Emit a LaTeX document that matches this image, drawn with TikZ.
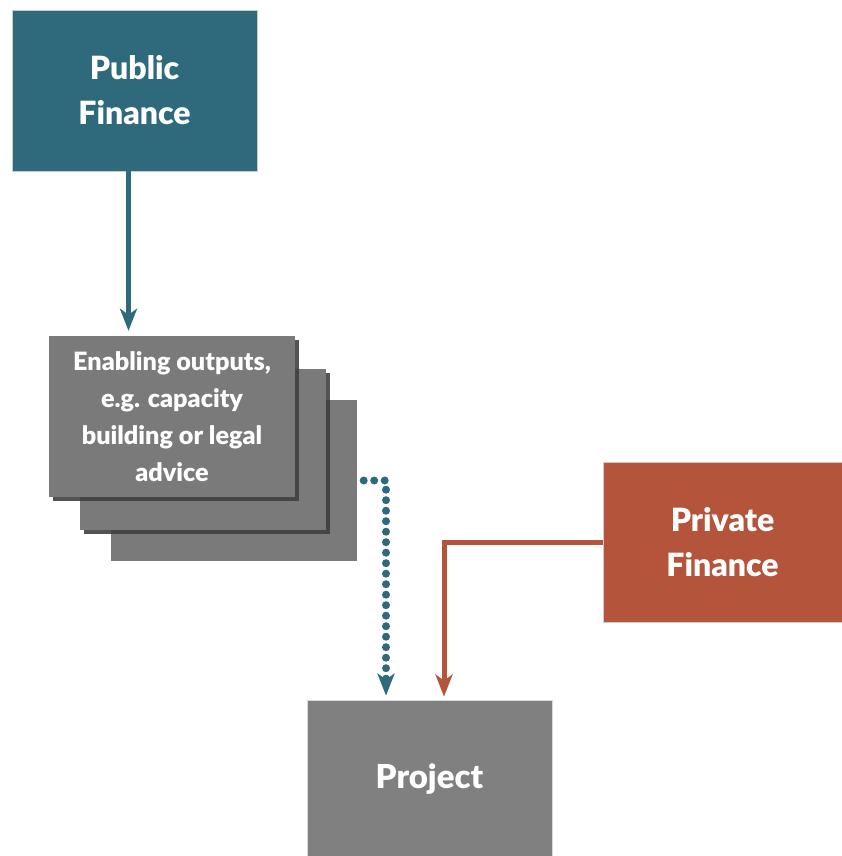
\documentclass[tikz,border=0pt]{standalone}
\usepackage{fontspec}
\setmainfont{Lato}[BoldFont={Lato Black}]
\usetikzlibrary{arrows.meta,shadows}
\definecolor{pubteal}{HTML}{2E6A7B}
\definecolor{privrust}{HTML}{B4553B}
\definecolor{boxgray}{HTML}{7A7A7A}
\definecolor{projgray}{HTML}{808080}
\tikzset{
  finbox/.style={rectangle, draw=black!20, line width=0.8pt, minimum width=245pt, minimum height=161pt,
    text=white, font=\fontsize{32}{45}\selectfont\bfseries, align=center, inner sep=0pt},
  stackbox/.style={rectangle, fill=boxgray, minimum width=246pt, minimum height=161pt, inner sep=0pt,
    text=white, font=\fontsize{25.2}{37}\selectfont\bfseries, align=center},
  shadowed/.style={drop shadow={shadow xshift=4pt, shadow yshift=-4pt, fill=black!75, opacity=0.9}},
  tealline/.style={draw=pubteal, line width=5pt, -{Stealth[length=22pt, width=17pt, inset=6pt]}},
  rustline/.style={draw=privrust, line width=5pt, -{Stealth[length=22pt, width=17pt, inset=6pt]}},
  dotline/.style={draw=pubteal, line width=8pt, line cap=round, dash pattern=on 0pt off 10.5pt,
    -{Stealth[length=22pt, width=17pt, inset=6pt]}},
}
\begin{document}
\begin{tikzpicture}[x=1pt,y=-1pt]
\useasboundingbox (0,0) rectangle (842,856);
% Public finance
\node[finbox, fill=pubteal] (public) at (134.5,90.5) {Public\\Finance};
% stacked outputs
\node[stackbox] (box3) at (233.5,480.5) {};
\node[stackbox, shadowed] (box2) at (203,449) {};
\node[stackbox, shadowed] (box1) at (172,416.5) {Enabling outputs,\\e.g. capacity\\building or legal\\advice};
% Private finance
\node[finbox, fill=privrust, minimum width=239pt, minimum height=160pt] (private) at (722.5,542) {Private\\Finance};
% Project
\node[rectangle, fill=projgray, draw=black!15, line width=0.8pt, minimum width=245pt, minimum height=158pt,
  inner sep=0pt, text=white, font=\fontsize{33}{44}\selectfont\bfseries] (project) at (429.5,779) {Project};
% connectors
\draw[tealline, shorten >=5pt] ([xshift=-6pt]public.south) -- ([xshift=-6pt]public.south |- box1.north);
\draw[dotline, shorten <=7pt, shorten >=4pt] (box3.east) -| ([xshift=-43.5pt]project.north);
\draw[rustline, shorten >=3pt] (private.west) -| ([xshift=14.5pt]project.north);
\end{tikzpicture}
\end{document}
